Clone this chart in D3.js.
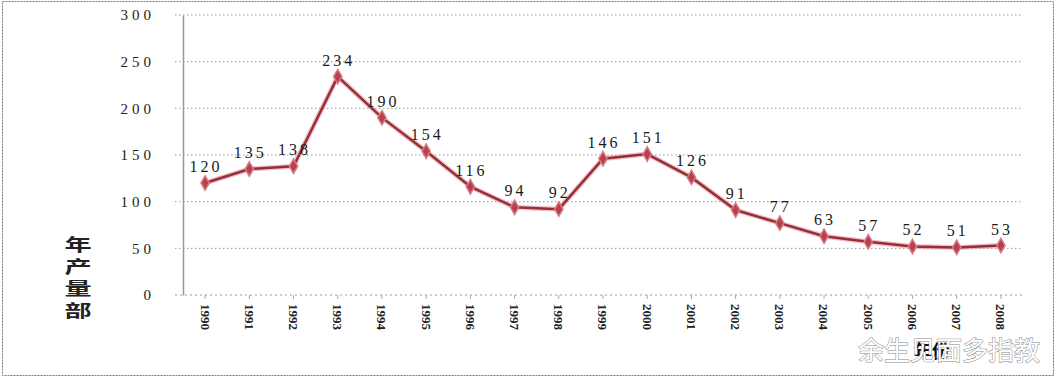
<!DOCTYPE html>
<html>
<head>
<meta charset="utf-8">
<script src="https://cdn.jsdelivr.net/npm/d3@7"></script>
<style>
	html, body { margin: 0; padding: 0; background: #fff; }
	svg { display: block; }
</style>
</head>
<body>
<div id="chart"></div>
<script>
// data
var years = ["1990","1991","1992","1993","1994","1995","1996","1997","1998","1999",
	"2000","2001","2002","2003","2004","2005","2006","2007","2008"];
var output = [120, 135, 138, 234, 190, 154, 116, 94, 92, 146, 151, 126, 91, 77, 63, 57, 52, 51, 53];
var yTicks = [0, 50, 100, 150, 200, 250, 300];
var yTitle = "年产量部";
var xTitle = "年份";
var watermark = "余生见面多指教";

var width = 1056, height = 378;
var margin = {left: 183, right: 33, top: 15, bottom: 83};

var svg = d3.select("#chart").append("svg")
	.attr("width", width)
	.attr("height", height);

// outer frame
svg.append("rect")
	.attr("x", 2.5).attr("y", 1.5)
	.attr("width", width - 5).attr("height", height - 4)
	.attr("fill", "none")
	.attr("stroke", "#777")
	.attr("stroke-dasharray", "2,1");

var x = d3.scaleBand()
	.domain(years)
	.range([margin.left, width - margin.right]);

var y = d3.scaleLinear()
	.domain([0, 300])
	.range([height - margin.bottom, margin.top]);

var serif = "'Liberation Serif', 'DejaVu Serif', serif";

// gridlines
svg.append("g")
	.attr("class", "grid")
	.selectAll("line")
	.data(yTicks.filter(d => d > 0))
	.enter().append("line")
	.attr("x1", margin.left - 8)
	.attr("x2", width - margin.right)
	.attr("y1", d => y(d))
	.attr("y2", d => y(d))
	.attr("stroke", "#999")
	.attr("stroke-width", 1)
	.attr("stroke-dasharray", "1.5,2.5");

// y axis
const yAxis = svg.append("g")
	.attr("transform", "translate(" + margin.left + ",0)")
	.call(d3.axisLeft(y).tickValues(yTicks).tickSize(0).tickPadding(28));
yAxis.select(".domain").attr("stroke", "#999").attr("stroke-width", 1.5);
yAxis.selectAll("text")
	.attr("fill", "#222")
	.style("font-family", serif)
	.style("font-size", "15px")
	.style("letter-spacing", "4px");

// x axis
const xAxis = svg.append("g")
	.attr("transform", "translate(0," + y(0) + ")")
	.call(d3.axisBottom(x).tickSize(4).tickPadding(8));
xAxis.select(".domain")
	.attr("stroke", "#999")
	.attr("stroke-dasharray", "2,3")
	.attr("d", "M" + (margin.left - 8) + ",0H" + (width - margin.right));
xAxis.selectAll(".tick line").attr("stroke", "#aaa");
xAxis.selectAll("text")
	.attr("fill", "#222")
	.style("font-family", serif)
	.style("font-size", "13px")
	.style("font-weight", "bold")
	.attr("text-anchor", "start")
	.attr("transform", "rotate(90)")
	.attr("x", 9)
	.attr("y", 0)
	.attr("dy", "0.35em");

// y title, one vertical text
svg.append("text")
	.attr("transform", "translate(78,236) scale(1.6,1)")
	.attr("x", 0)
	.attr("y", 0)
	.style("writing-mode", "vertical-rl")
	.style("glyph-orientation-vertical", "0")
	.style("letter-spacing", "5px")
	.style("font-family", "'Noto Sans CJK SC', sans-serif")
	.style("font-size", "17px")
	.style("font-weight", "bold")
	.attr("fill", "#222")
	.text(yTitle);

// line
const line = d3.line()
	.x((d, i) => x(years[i]) + x.bandwidth() / 2)
	.y(d => y(d));

svg.append("path")
	.datum(output)
	.attr("d", line)
	.attr("fill", "none")
	.attr("stroke", "#e39aa2")
	.attr("stroke-width", 5)
	.attr("stroke-opacity", 0.6);

svg.append("path")
	.datum(output)
	.attr("d", line)
	.attr("fill", "none")
	.attr("stroke", "#9a2e38")
	.attr("stroke-width", 2.5);

// markers
svg.append("g")
	.selectAll("path")
	.data(output)
	.enter().append("path")
	.attr("transform", (d, i) => "translate(" + (x(years[i]) + x.bandwidth() / 2) + "," + y(d) + ")")
	.attr("d", d3.symbol().type(d3.symbolDiamond).size(60))
	.attr("fill", "#b8404c")
	.attr("stroke", "#d77b85")
	.attr("stroke-width", 1.5);

// value labels
svg.append("g")
	.selectAll("text")
	.data(output)
	.enter().append("text")
	.attr("x", (d, i) => x(years[i]) + x.bandwidth() / 2 + 1)
	.attr("y", d => y(d) - 11)
	.attr("text-anchor", "middle")
	.style("font-family", serif)
	.style("font-size", "16px")
	.style("letter-spacing", "3px")
	.attr("fill", "#1a1a1a")
	.text(d => d);

// x title (mostly hidden behind the watermark)
svg.append("text")
	.attr("x", 932)
	.attr("y", 358)
	.attr("text-anchor", "middle")
	.style("font-family", "'Noto Sans CJK SC', sans-serif")
	.style("font-size", "18px")
	.style("font-weight", "bold")
	.attr("fill", "#111")
	.text(xTitle);

// watermark
svg.append("text")
	.attr("x", 949)
	.attr("y", 360)
	.attr("text-anchor", "middle")
	.style("font-family", "'Noto Sans CJK SC', sans-serif")
	.style("font-size", "26px")
	.attr("fill", "#fff")
	.attr("stroke", "#888")
	.attr("stroke-width", 1)
	.attr("paint-order", "stroke")
	.text(watermark);
</script>
</body>
</html>
